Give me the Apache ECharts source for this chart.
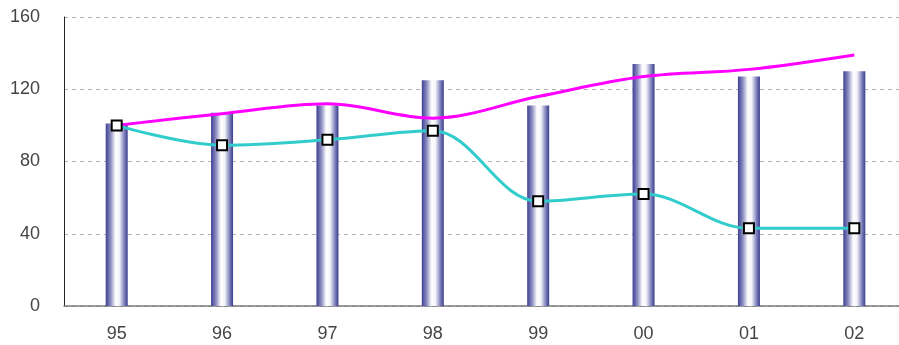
<!DOCTYPE html>
<html>
<head>
<meta charset="utf-8">
<script src="https://cdn.jsdelivr.net/npm/echarts@6/dist/echarts.min.js"></script>
<style>
  html, body { margin: 0; padding: 0; background: #fff; overflow: hidden; }
  /* the value axis runs slightly past the right edge of the window */
  #chart { width: 910px; height: 345px; }
</style>
</head>
<body>
<div id="chart"></div>
<script>
// Years along the x axis
const years = ['95', '96', '97', '98', '99', '00', '01', '02'];
// Column series (gradient bars)
const barValues = [101, 107, 111, 125, 111, 134, 127, 130];
// Magenta trend line
const magentaValues = [100, 106.5, 112, 104, 116, 127, 131, 139];
// Cyan line with square markers
const cyanValues = [100, 89, 92, 97, 58, 62, 43, 43];
// Value axis ticks
const yTicks = [0, 40, 80, 120, 160];

const chart = echarts.init(document.getElementById('chart'));

const labelFont = { fontFamily: 'Liberation Sans', fontSize: 18, color: '#444' };

chart.setOption({
  animation: false,
  grid: { left: 64, width: 843, top: 17, bottom: 39 },
  xAxis: {
    type: 'category',
    data: years,
    boundaryGap: true,
    axisLine: { lineStyle: { color: '#7a7a7a', width: 1.5 } },
    axisTick: { inside: true, length: 4, lineStyle: { color: '#333' } },
    axisLabel: Object.assign({ margin: 19 }, labelFont)
  },
  yAxis: {
    type: 'value',
    min: yTicks[0],
    max: yTicks[yTicks.length - 1],
    interval: 40,
    axisLine: { show: true, lineStyle: { color: '#222', width: 1 } },
    axisTick: { show: false },
    axisLabel: Object.assign({ margin: 24 }, labelFont),
    splitLine: { lineStyle: { color: '#b0b0b0', type: [4, 4], width: 1 } }
  },
  series: [
    {
      type: 'bar',
      data: barValues,
      barWidth: 22,
      itemStyle: {
        color: new echarts.graphic.LinearGradient(0, 0, 1, 0, [
          { offset: 0, color: '#3d3f93' },
          { offset: 0.22, color: '#8a8cc0' },
          { offset: 0.45, color: '#ffffff' },
          { offset: 0.62, color: '#f4f4fa' },
          { offset: 0.85, color: '#7c7fba' },
          { offset: 1, color: '#3a3c8e' }
        ])
      },
      z: 1
    },
    {
      type: 'line',
      data: magentaValues,
      smooth: 0.35,
      symbol: 'none',
      lineStyle: { color: '#ff00ff', width: 3 },
      z: 3
    },
    {
      type: 'line',
      data: cyanValues,
      smooth: 0.35,
      symbol: 'rect',
      symbolSize: 10,
      itemStyle: { color: '#ffffff', borderColor: '#000', borderWidth: 2 },
      lineStyle: { color: '#33cccc', width: 3 },
      z: 4
    }
  ]
});
</script>
</body>
</html>
